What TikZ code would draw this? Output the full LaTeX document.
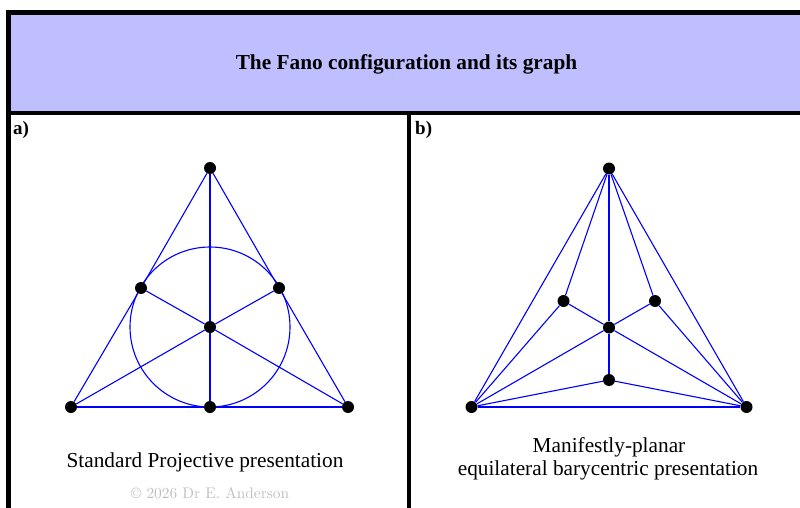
\documentclass[tikz,border=0pt]{standalone}
\usepackage{fontspec}
\setmainfont{Liberation Serif}
\newfontfamily\lmfont{lmroman10-regular.otf}
\usetikzlibrary{calc,backgrounds}

\begin{document}
\begin{tikzpicture}[
  x=1pt, y=-1pt,
  dot/.style={circle,fill=black,inner sep=0pt,minimum size=12pt},
  edge/.style={draw=blue,line width=1.1pt},
  frame/.style={draw=black,line width=4.8pt},
  tag/.style={font=\fontsize{19}{22}\selectfont\bfseries,anchor=base west,inner sep=0pt},
  caption/.style={font=\fontsize{21.3}{25}\selectfont,anchor=base,inner sep=0pt},
]
\useasboundingbox (0,0) rectangle (800,508);
\clip (0,0) rectangle (800,508);

% Title band and frame
\fill[blue!25] (8.5,12.5) rectangle (815,113);
\draw[frame] (8.5,520) -- (8.5,12.5) -- (815,12.5);
\draw[frame] (8.5,113) -- (815,113);
\draw[frame] (409,113) -- (409,520);
\node[font=\fontsize{21.3}{25}\selectfont\bfseries,anchor=base,inner sep=0pt] (title) at (406.5,70) {The Fano configuration and its graph};

% a) standard projective presentation
\node[tag] (taga) at (13,135) {a)};
\node[dot] (a1) at (210,168) {};
\node[dot] (b1) at (71,407)  {};
\node[dot] (c1) at (348,407) {};
\node[dot] (d1) at (210,407) {};
\node[dot] (e1) at (141,288) {};
\node[dot] (f1) at (279,288) {};
\node[dot] (g1) at (210,327) {};
\begin{scope}[on background layer]
  \draw[edge] (g1) circle (80);
\end{scope}
\draw[edge] (a1) -- (e1);
\draw[edge] (e1) -- (b1);
\draw[edge] (a1) -- (f1);
\draw[edge] (f1) -- (c1);
\draw[edge] (b1) -- (d1);
\draw[edge] (d1) -- (c1);
\draw[edge] (a1) -- (g1);
\draw[edge] (g1) -- (d1);
\draw[edge] (b1) -- (g1);
\draw[edge] (g1) -- (f1);
\draw[edge] (c1) -- (g1);
\draw[edge] (g1) -- (e1);
\node[caption] (capa) at (205,467) {Standard Projective presentation};
\node[font=\lmfont\fontsize{15.4}{18}\selectfont,text=black!25,anchor=base,inner sep=0pt] (copy) at (210,498) {© 2026 Dr E. Anderson};

% b) manifestly-planar presentation
\node[tag] (tagb) at (415,135) {b)};
\node[dot] (a2) at (609,168.5) {};
\node[dot] (b2) at (471.5,407) {};
\node[dot] (c2) at (746.5,407) {};
\node[dot] (g2) at (609,327.5) {};
\node[dot] (l2) at (563.5,301) {};
\node[dot] (r2) at (655,301)   {};
\node[dot] (h2) at (609,380)   {};
\draw[edge] (a2) -- (b2);
\draw[edge] (a2) -- (c2);
\draw[edge] (b2) -- (c2);
\draw[edge] (a2) -- (l2);
\draw[edge] (a2) -- (r2);
\draw[edge] (a2) -- (g2);
\draw[edge] (l2) -- (b2);
\draw[edge] (r2) -- (c2);
\draw[edge] (l2) -- (g2);
\draw[edge] (r2) -- (g2);
\draw[edge] (g2) -- (b2);
\draw[edge] (g2) -- (c2);
\draw[edge] (g2) -- (h2);
\draw[edge] (h2) -- (b2);
\draw[edge] (h2) -- (c2);
\node[caption] (capb1) at (609,452) {Manifestly-planar};
\node[caption] (capb2) at (608,475) {equilateral barycentric presentation};

\end{tikzpicture}
\end{document}
